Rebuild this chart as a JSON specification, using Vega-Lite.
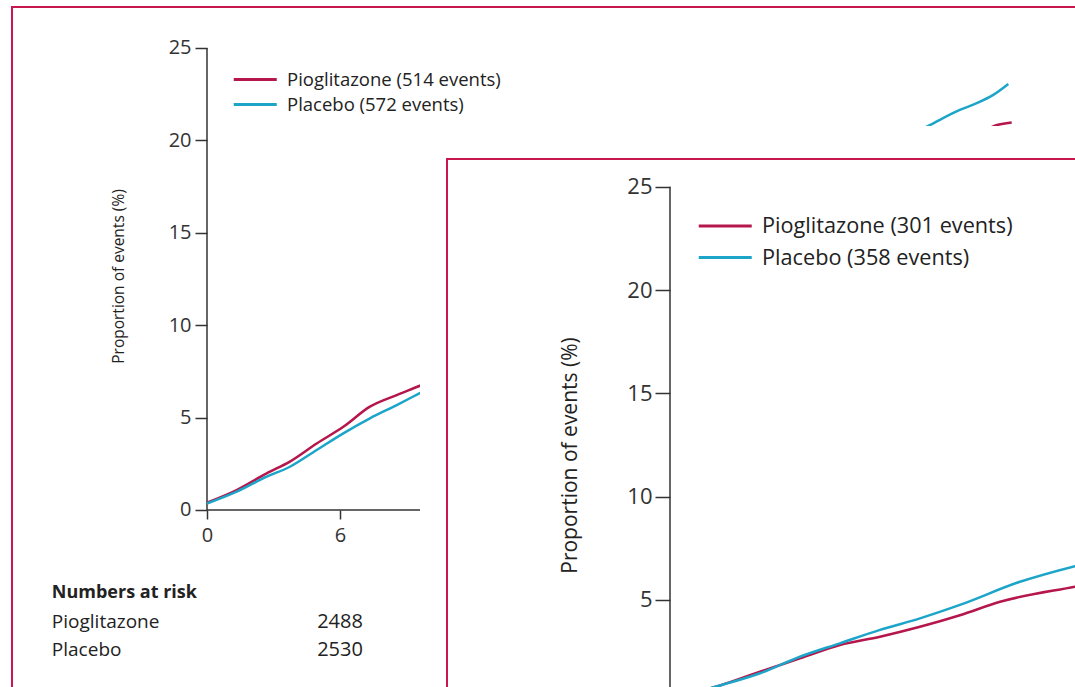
{
  "$schema": "https://vega.github.io/schema/vega-lite/v6.json",
  "width": 1075,
  "height": 687,
  "autosize": "none",
  "padding": 0,
  "background": "white",
  "config": {"view": {"stroke": null}, "font": "Open Sans"},
  "datasets": {
    "outer": [
      {"arm": "Pioglitazone (514 events)", "month": 0, "pct": 0.4},
      {"arm": "Pioglitazone (514 events)", "month": 1.34, "pct": 1.08},
      {"arm": "Pioglitazone (514 events)", "month": 2.69, "pct": 1.98},
      {"arm": "Pioglitazone (514 events)", "month": 3.74, "pct": 2.62},
      {"arm": "Pioglitazone (514 events)", "month": 4.95, "pct": 3.6},
      {"arm": "Pioglitazone (514 events)", "month": 6.15, "pct": 4.5},
      {"arm": "Pioglitazone (514 events)", "month": 7.35, "pct": 5.59},
      {"arm": "Pioglitazone (514 events)", "month": 8.56, "pct": 6.22},
      {"arm": "Pioglitazone (514 events)", "month": 9.58, "pct": 6.71},
      {"arm": "Pioglitazone (514 events)", "month": 12, "pct": 8.0},
      {"arm": "Pioglitazone (514 events)", "month": 18, "pct": 11.2},
      {"arm": "Pioglitazone (514 events)", "month": 24, "pct": 14.6},
      {"arm": "Pioglitazone (514 events)", "month": 30, "pct": 17.6},
      {"arm": "Pioglitazone (514 events)", "month": 34, "pct": 19.6},
      {"arm": "Pioglitazone (514 events)", "month": 35.54, "pct": 20.8},
      {"arm": "Pioglitazone (514 events)", "month": 36.3, "pct": 20.97},
      {"arm": "Placebo (572 events)", "month": 0, "pct": 0.35},
      {"arm": "Placebo (572 events)", "month": 1.34, "pct": 0.99},
      {"arm": "Placebo (572 events)", "month": 2.69, "pct": 1.8},
      {"arm": "Placebo (572 events)", "month": 3.74, "pct": 2.34},
      {"arm": "Placebo (572 events)", "month": 4.95, "pct": 3.25},
      {"arm": "Placebo (572 events)", "month": 6.15, "pct": 4.15},
      {"arm": "Placebo (572 events)", "month": 7.35, "pct": 4.96},
      {"arm": "Placebo (572 events)", "month": 8.56, "pct": 5.68},
      {"arm": "Placebo (572 events)", "month": 9.58, "pct": 6.31},
      {"arm": "Placebo (572 events)", "month": 12, "pct": 7.8},
      {"arm": "Placebo (572 events)", "month": 18, "pct": 11.6},
      {"arm": "Placebo (572 events)", "month": 24, "pct": 15.3},
      {"arm": "Placebo (572 events)", "month": 30, "pct": 19.3},
      {"arm": "Placebo (572 events)", "month": 32.56, "pct": 20.8},
      {"arm": "Placebo (572 events)", "month": 33.96, "pct": 21.65},
      {"arm": "Placebo (572 events)", "month": 34.7, "pct": 22.0},
      {"arm": "Placebo (572 events)", "month": 35.47, "pct": 22.46},
      {"arm": "Placebo (572 events)", "month": 36.15, "pct": 23.05}
    ],
    "inner": [
      {"arm": "Pioglitazone (301 events)", "month": 0, "pct": 0.2},
      {"arm": "Pioglitazone (301 events)", "month": 2.02, "pct": 0.85},
      {"arm": "Pioglitazone (301 events)", "month": 3.63, "pct": 1.52},
      {"arm": "Pioglitazone (301 events)", "month": 5.24, "pct": 2.16},
      {"arm": "Pioglitazone (301 events)", "month": 6.85, "pct": 2.81},
      {"arm": "Pioglitazone (301 events)", "month": 8.47, "pct": 3.21},
      {"arm": "Pioglitazone (301 events)", "month": 10.08, "pct": 3.69},
      {"arm": "Pioglitazone (301 events)", "month": 11.69, "pct": 4.25},
      {"arm": "Pioglitazone (301 events)", "month": 13.31, "pct": 4.9},
      {"arm": "Pioglitazone (301 events)", "month": 16.33, "pct": 5.63},
      {"arm": "Pioglitazone (301 events)", "month": 18, "pct": 6.0},
      {"arm": "Placebo (358 events)", "month": 0, "pct": 0.2},
      {"arm": "Placebo (358 events)", "month": 2.02, "pct": 0.85},
      {"arm": "Placebo (358 events)", "month": 3.63, "pct": 1.44},
      {"arm": "Placebo (358 events)", "month": 5.24, "pct": 2.24},
      {"arm": "Placebo (358 events)", "month": 6.85, "pct": 2.89},
      {"arm": "Placebo (358 events)", "month": 8.47, "pct": 3.54},
      {"arm": "Placebo (358 events)", "month": 10.08, "pct": 4.1},
      {"arm": "Placebo (358 events)", "month": 11.69, "pct": 4.75},
      {"arm": "Placebo (358 events)", "month": 14.11, "pct": 5.87},
      {"arm": "Placebo (358 events)", "month": 16.33, "pct": 6.63},
      {"arm": "Placebo (358 events)", "month": 18, "pct": 7.1}
    ],
    "risk": [
      {"group": "Pioglitazone", "month": 6, "n": 2488},
      {"group": "Placebo", "month": 6, "n": 2530}
    ]
  },
  "layer": [
    {
      "data": {"values": [{}]},
      "mark": {"type": "rect", "fill": "transparent", "stroke": "#c8174f", "strokeWidth": 2, "clip": true},
      "encoding": {
        "x": {"datum": -8.797, "type": "quantitative", "scale": {"domain": [-9.338, 39.157], "nice": false, "zero": false}, "axis": null},
        "x2": {"datum": 60},
        "y": {"datum": 27.219, "type": "quantitative", "scale": {"domain": [-9.578, 27.597], "nice": false, "zero": false}, "axis": null},
        "y2": {"datum": -20}
      }
    },
    {
      "data": {"values": [{}]},
      "mark": {"type": "rule", "stroke": "#333", "strokeWidth": 1.5, "clip": true},
      "encoding": {
        "x": {"datum": 0, "type": "quantitative", "scale": {"domain": [-9.338, 39.157], "nice": false, "zero": false}, "axis": null},
        "y": {"datum": 0, "type": "quantitative", "scale": {"domain": [-9.578, 27.597], "nice": false, "zero": false}, "axis": null},
        "y2": {"datum": 25}
      }
    },
    {
      "data": {"values": [{}]},
      "mark": {"type": "rule", "stroke": "#333", "strokeWidth": 1.5, "clip": true},
      "encoding": {
        "x": {"datum": 0, "type": "quantitative", "scale": {"domain": [-9.338, 39.157], "nice": false, "zero": false}, "axis": null},
        "x2": {"datum": 36},
        "y": {"datum": 0, "type": "quantitative", "scale": {"domain": [-9.578, 27.597], "nice": false, "zero": false}, "axis": null}
      }
    },
    {
      "data": {"name": "outer"},
      "mark": {"type": "line", "interpolate": "monotone", "strokeWidth": 2.5, "clip": true},
      "encoding": {
        "x": {
          "field": "month", "type": "quantitative",
          "scale": {"domain": [-9.338, 39.157], "nice": false, "zero": false},
          "axis": {"orient": "bottom", "offset": -177, "values": [0, 6, 12, 18, 24, 30, 36], "domain": false, "grid": false, "tickSize": 9, "tickColor": "#333", "tickWidth": 1.5, "labelFontSize": 20, "labelColor": "#333", "labelPadding": 6, "labelOverlap": false, "labelFlush": false, "title": null, "zindex": 0}
        },
        "y": {
          "field": "pct", "type": "quantitative",
          "scale": {"domain": [-9.578, 27.597], "nice": false, "zero": false},
          "axis": {"orient": "left", "offset": -207, "values": [0, 5, 10, 15, 20, 25], "domain": false, "grid": false, "tickSize": 12, "tickColor": "#333", "tickWidth": 1.5, "labelFontSize": 20, "labelColor": "#333", "labelPadding": 4, "labelOverlap": false, "labelFlush": false, "title": "Proportion of events (%)", "titleFontSize": 15.5, "titleFontWeight": "normal", "titleColor": "#222", "titleX": -89, "titleY": 276, "titleAngle": -90, "titleBaseline": "middle", "titleAlign": "center", "zindex": 0}
        },
        "color": {
          "field": "arm", "type": "nominal",
          "scale": {"domain": ["Pioglitazone (514 events)", "Placebo (572 events)"], "range": ["#b5164b", "#1da5c9"]},
          "legend": {"orient": "none", "legendX": 232, "legendY": 67, "title": null, "symbolType": "M-1,0H3", "symbolSize": 462, "symbolStrokeWidth": 3, "symbolFillColor": "transparent", "labelOffset": 30, "labelFontSize": 18.5, "labelColor": "#222", "labelLimit": 0, "rowPadding": 3, "padding": 0, "zindex": 1}
        }
      }
    },
    {
      "data": {"values": [{"label": "Numbers at risk"}]},
      "mark": {"type": "text", "align": "left", "baseline": "middle", "fontSize": 18, "fontWeight": "bold", "color": "#222"},
      "encoding": {
        "text": {"field": "label"},
        "x": {"datum": -7, "type": "quantitative", "scale": {"domain": [-9.338, 39.157], "nice": false, "zero": false}, "axis": null},
        "y": {"datum": "Numbers at risk", "type": "nominal", "scale": {"type": "point", "domain": ["Numbers at risk", "Pioglitazone", "Placebo"], "range": [593, 650], "padding": 0}, "axis": null}
      }
    },
    {
      "data": {"name": "risk"},
      "mark": {"type": "text", "align": "left", "baseline": "middle", "fontSize": 19, "color": "#222"},
      "encoding": {
        "text": {"field": "group"},
        "x": {"datum": -7, "type": "quantitative", "scale": {"domain": [-9.338, 39.157], "nice": false, "zero": false}, "axis": null},
        "y": {"field": "group", "type": "nominal", "scale": {"type": "point", "domain": ["Numbers at risk", "Pioglitazone", "Placebo"], "range": [593, 650], "padding": 0}, "axis": null}
      }
    },
    {
      "data": {"name": "risk"},
      "mark": {"type": "text", "align": "center", "baseline": "middle", "fontSize": 20, "color": "#222"},
      "encoding": {
        "text": {"field": "n"},
        "x": {"field": "month", "type": "quantitative", "scale": {"domain": [-9.338, 39.157], "nice": false, "zero": false}, "axis": null},
        "y": {"field": "group", "type": "nominal", "scale": {"type": "point", "domain": ["Numbers at risk", "Pioglitazone", "Placebo"], "range": [593, 650], "padding": 0}, "axis": null}
      }
    },
    {
      "data": {"values": [{}]},
      "mark": {"type": "rect", "fill": "white", "stroke": null, "clip": true},
      "encoding": {
        "x": {"datum": -10.08, "type": "quantitative", "scale": {"domain": [-27.016, 16.331], "nice": false, "zero": false}, "axis": null},
        "x2": {"datum": 40},
        "y": {"datum": 27.94, "type": "quantitative", "scale": {"domain": [0.775, 34.044], "nice": false, "zero": false}, "axis": null},
        "y2": {"datum": -10}
      }
    },
    {
      "data": {"values": [{}]},
      "mark": {"type": "rect", "fill": "transparent", "stroke": "#c8174f", "strokeWidth": 2, "clip": true},
      "encoding": {
        "x": {"datum": -8.992, "type": "quantitative", "scale": {"domain": [-27.016, 16.331], "nice": false, "zero": false}, "axis": null},
        "x2": {"datum": 40},
        "y": {"datum": 26.344, "type": "quantitative", "scale": {"domain": [0.775, 34.044], "nice": false, "zero": false}, "axis": null},
        "y2": {"datum": -10}
      }
    },
    {
      "data": {"values": [{}]},
      "mark": {"type": "rule", "stroke": "#333", "strokeWidth": 1.5, "clip": true},
      "encoding": {
        "x": {"datum": 0, "type": "quantitative", "scale": {"domain": [-27.016, 16.331], "nice": false, "zero": false}, "axis": null},
        "y": {"datum": 0, "type": "quantitative", "scale": {"domain": [0.775, 34.044], "nice": false, "zero": false}, "axis": null},
        "y2": {"datum": 25}
      }
    },
    {
      "data": {"name": "inner"},
      "mark": {"type": "line", "interpolate": "monotone", "strokeWidth": 2.5, "clip": true},
      "encoding": {
        "x": {"field": "month", "type": "quantitative", "scale": {"domain": [-27.016, 16.331], "nice": false, "zero": false}, "axis": null},
        "y": {
          "field": "pct", "type": "quantitative",
          "scale": {"domain": [0.775, 34.044], "nice": false, "zero": false},
          "axis": {"orient": "left", "offset": -670, "values": [0, 5, 10, 15, 20, 25], "domain": false, "grid": false, "tickSize": 15, "tickColor": "#333", "tickWidth": 1.5, "labelFontSize": 22, "labelColor": "#333", "labelPadding": 3, "labelOverlap": false, "labelFlush": false, "title": "Proportion of events (%)", "titleFontSize": 21, "titleFontWeight": "normal", "titleColor": "#222", "titleX": -100, "titleY": 455, "titleAngle": -90, "titleBaseline": "middle", "titleAlign": "center", "zindex": 1}
        },
        "color": {
          "field": "arm", "type": "nominal",
          "scale": {"domain": ["Pioglitazone (301 events)", "Placebo (358 events)"], "range": ["#b5164b", "#1da5c9"]},
          "legend": {"orient": "none", "legendX": 697, "legendY": 211, "title": null, "symbolType": "M-1,0H3", "symbolSize": 702, "symbolStrokeWidth": 3, "symbolFillColor": "transparent", "labelOffset": 35, "labelFontSize": 21.7, "labelColor": "#222", "labelLimit": 0, "rowPadding": 4.5, "padding": 0, "zindex": 1}
        }
      }
    }
  ],
  "resolve": {"scale": {"x": "independent", "y": "independent", "color": "independent"}}
}
